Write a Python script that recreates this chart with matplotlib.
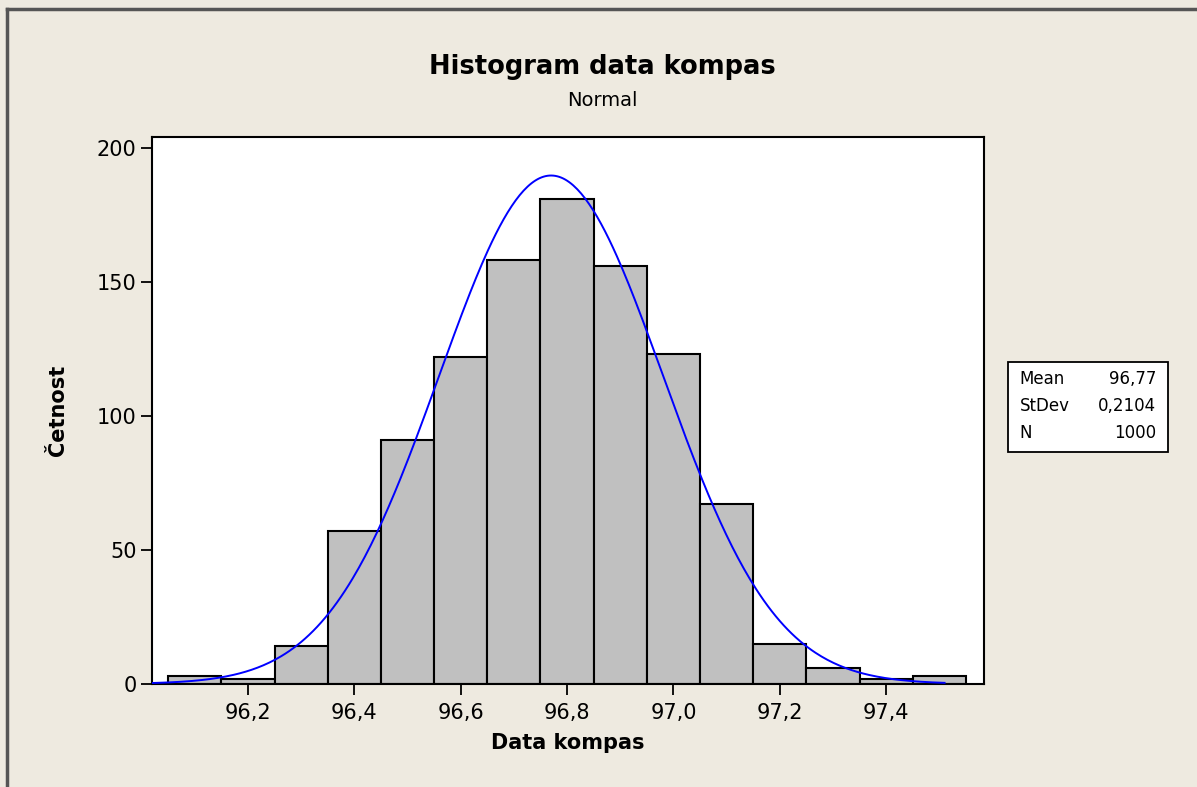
import numpy as np
import matplotlib
matplotlib.use('Agg')
import matplotlib.pyplot as plt
from matplotlib.lines import Line2D

# bin centres and counts
bin_centers = [96.1, 96.2, 96.3, 96.4, 96.5, 96.6, 96.7, 96.8, 96.9, 97.0, 97.1, 97.2, 97.3, 97.4, 97.5]
counts = [3, 2, 14, 57, 91, 122, 158, 181, 156, 123, 67, 15, 6, 2, 3]
bin_width = 0.1

mean = 96.77
stdev = 0.2104
n = 1000

x_ticks = [96.2, 96.4, 96.6, 96.8, 97.0, 97.2, 97.4]
x_ticklabels = ['96,2', '96,4', '96,6', '96,8', '97,0', '97,2', '97,4']
y_ticks = [0, 50, 100, 150, 200]

bg = '#EEEAE0'

fig = plt.figure(figsize=(11.97, 7.87), dpi=100, facecolor=bg)
ax = fig.add_axes([0.127, 0.131, 0.695, 0.695])
ax.set_facecolor('white')

ax.bar(bin_centers, counts, width=bin_width, color='#C0C0C0',
       edgecolor='black', linewidth=1.5, zorder=2)

# fitted normal curve scaled to counts
xs = np.linspace(96.02, 97.51, 400)
ys = n * bin_width / (stdev * np.sqrt(2 * np.pi)) * np.exp(-0.5 * ((xs - mean) / stdev) ** 2)
ax.plot(xs, ys, color='#0000FF', linewidth=1.4, zorder=3)

ax.set_xlim(96.0195, 97.584)
ax.set_ylim(0, 204)
ax.set_xticks(x_ticks)
ax.set_xticklabels(x_ticklabels)
ax.set_yticks(y_ticks)
ax.tick_params(direction='out', length=8, width=1.3, labelsize=15, pad=3)
ax.tick_params(axis='x', pad=6)
for s in ax.spines.values():
    s.set_linewidth(1.5)

ax.set_xlabel('Data kompas', fontsize=15, fontweight='bold', labelpad=7)
ax.set_ylabel('Četnost', fontsize=15, fontweight='bold', labelpad=21)

fig.text(0.503, 0.915, 'Histogram data kompas', ha='center', va='center',
         fontsize=18.5, fontweight='bold')
fig.text(0.503, 0.872, 'Normal', ha='center', va='center', fontsize=14)

# stats box
box = plt.Rectangle((0.842, 0.426), 0.134, 0.114, transform=fig.transFigure,
                    facecolor='white', edgecolor='black', linewidth=1.3)
fig.add_artist(box)
stats = [('Mean', '96,77'), ('StDev', '0,2104'), ('N', '1000')]
for i, (k, v) in enumerate(stats):
    yy = 0.519 - i * 0.0345
    fig.text(0.852, yy, k, ha='left', va='center', fontsize=12)
    fig.text(0.966, yy, v, ha='right', va='center', fontsize=12)

# outer frame (top and left edges)
fig.add_artist(Line2D([0.006, 1.0], [0.9885, 0.9885], transform=fig.transFigure,
                      color='#555555', linewidth=2.5))
fig.add_artist(Line2D([0.006, 0.006], [0.0, 0.9885], transform=fig.transFigure,
                      color='#555555', linewidth=2.5))

fig.savefig('out.png', dpi=100, facecolor=bg)
